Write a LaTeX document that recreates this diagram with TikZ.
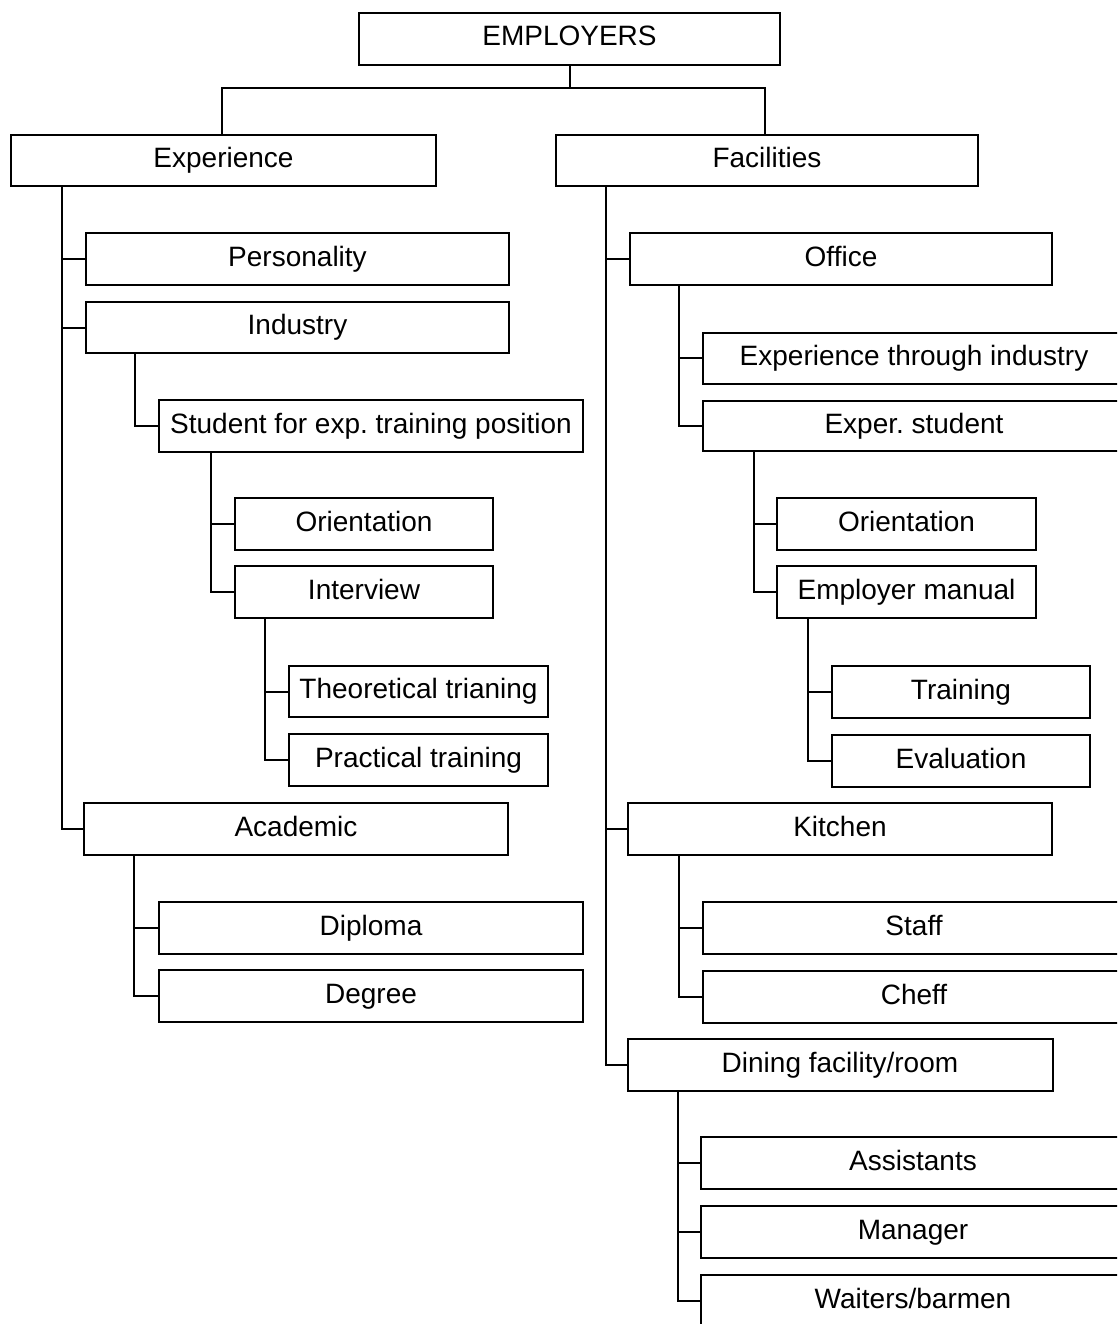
\documentclass[tikz,border=0pt]{standalone}
\usepackage{fontspec}
\setmainfont{Liberation Sans}
\frenchspacing
\begin{document}
\begin{tikzpicture}[x=1pt,y=-1pt,
  box/.style={draw, line width=2pt, rectangle, inner sep=0pt,
    minimum height=52pt, text height=20pt, text depth=6pt,
    font=\fontsize{28}{32}\selectfont},
  link/.style={line width=2pt}]
\useasboundingbox (0,0) rectangle (1117,1324);
\clip (0,0) rectangle (1117,1324);

% top level
\node[box, minimum width=421] (emp) at (569.5,39) {EMPLOYERS};
\node[box, minimum width=425, minimum height=51] (exp) at (223.5,160.5) {Experience};
\node[box, minimum width=422, minimum height=51] (fac) at (767,160.5) {Facilities};
\coordinate (split) at (569.5,88);
\draw[link] (emp.south) -- (split);
\draw[link] (exp.north -| 222,0) |- (split) -| (fac.north -| 765,0);

% Experience branch
\node[box, minimum width=423] (pers) at (297.5,259) {Personality};
\node[box, minimum width=423, minimum height=51] (ind) at (297.5,327.5) {Industry};
\node[box, minimum width=424] (stud) at (371,426) {Student for exp. training position};
\node[box, minimum width=258] (orl) at (364,524) {Orientation};
\node[box, minimum width=258] (intv) at (364,592) {Interview};
\node[box, minimum width=259, minimum height=51] (theo) at (418.5,691.5) {Theoretical trianing};
\node[box, minimum width=259] (prac) at (418.5,760) {Practical training};
\node[box, minimum width=424] (acad) at (296,829) {Academic};
\node[box, minimum width=424] (dipl) at (371,928) {Diploma};
\node[box, minimum width=424] (degr) at (371,996) {Degree};

\draw[link] ([xshift=52]exp.south west) |- (pers.west);
\draw[link] ([xshift=52]exp.south west) |- (ind.west);
\draw[link] ([xshift=52]exp.south west) |- (acad.west);
\draw[link] ([xshift=50]ind.south west) |- (stud.west);
\draw[link] ([xshift=53]stud.south west) |- (orl.west);
\draw[link] ([xshift=53]stud.south west) |- (intv.west);
\draw[link] ([xshift=31]intv.south west) |- (theo.west);
\draw[link] ([xshift=31]intv.south west) |- (prac.west);
\draw[link] ([xshift=51]acad.south west) |- (dipl.west);
\draw[link] ([xshift=51]acad.south west) |- (degr.west);

% Facilities branch
\node[box, minimum width=422] (off) at (841,259) {Office};
\node[box, minimum width=422, minimum height=51] (eti) at (914,358) {Experience through industry};
\node[box, minimum width=422, minimum height=50] (exst) at (914,426) {Exper. student};
\node[box, minimum width=259] (orr) at (906.5,524) {Orientation};
\node[box, minimum width=259] (man) at (906.5,592) {Employer manual};
\node[box, minimum width=258] (trn) at (961,692) {Training};
\node[box, minimum width=258] (eval) at (961,761) {Evaluation};
\node[box, minimum width=424] (kit) at (840,829) {Kitchen};
\node[box, minimum width=422] (staff) at (914,928) {Staff};
\node[box, minimum width=422] (cheff) at (914,997) {Cheff};
\node[box, minimum width=425] (din) at (840,1065) {Dining facility/room};
\node[box, minimum width=424] (asst) at (913,1163) {Assistants};
\node[box, minimum width=424] (mgr) at (913,1232) {Manager};
\node[box, minimum width=424] (wait) at (913,1301) {Waiters/barmen};

\draw[link] ([xshift=51]fac.south west) |- (off.west);
\draw[link] ([xshift=51]fac.south west) |- (kit.west);
\draw[link] ([xshift=51]fac.south west) |- (din.west);
\draw[link] ([xshift=50]off.south west) |- (eti.west);
\draw[link] ([xshift=50]off.south west) |- (exst.west);
\draw[link] ([xshift=52]exst.south west) |- (orr.west);
\draw[link] ([xshift=52]exst.south west) |- (man.west);
\draw[link] ([xshift=32]man.south west) |- (trn.west);
\draw[link] ([xshift=32]man.south west) |- (eval.west);
\draw[link] ([xshift=52]kit.south west) |- (staff.west);
\draw[link] ([xshift=52]kit.south west) |- (cheff.west);
\draw[link] ([xshift=51]din.south west) |- (asst.west);
\draw[link] ([xshift=51]din.south west) |- (mgr.west);
\draw[link] ([xshift=51]din.south west) |- (wait.west);
\end{tikzpicture}
\end{document}
